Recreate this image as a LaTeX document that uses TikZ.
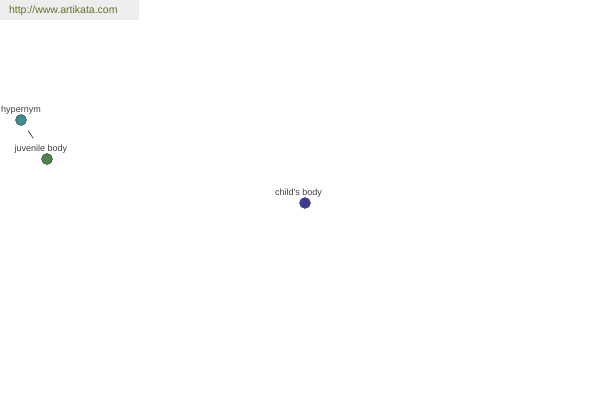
\documentclass[tikz,border=0pt]{standalone}
\usepackage{fontspec}
\setmainfont{Liberation Sans}
\usepackage{tikz}
\usetikzlibrary{calc}
\definecolor{eeeeee}{rgb}{0.93,0.93,0.93}
\definecolor{olivetxt}{rgb}{0.38,0.45,0.16}
\definecolor{tealdot}{rgb}{0.25,0.55,0.55}
\definecolor{greendot}{rgb}{0.30,0.52,0.30}
\definecolor{bluedot}{rgb}{0.24,0.24,0.55}
\definecolor{labeltxt}{rgb}{0.25,0.25,0.25}
\tikzstyle{every node}=[font=\fontsize{9}{10}\selectfont]
\tikzstyle{dot}=[circle,draw=black!80,line width=0.4pt,inner sep=0pt,minimum size=11pt]
\tikzstyle{word}=[text=labeltxt,inner sep=1pt]
\begin{document}
\begin{tikzpicture}[line cap=round,line join=round,x=1pt,y=-1pt]
            \useasboundingbox[fill=white] (0,0) rectangle (600,400);
            \fill[eeeeee] (0,0) rectangle (139,20);
            \node[anchor=west,text=olivetxt,font=\fontsize{10.5}{12}\selectfont] (site) at (5.5,11) {http://www.artikata.com};
            \node[dot,fill=tealdot] (hyper) at (21,120) {};
            \node[dot,fill=greendot] (juvenile) at (47,159) {};
            \node[dot,fill=bluedot,draw=bluedot] (child) at (305,203) {};
            \draw [line width=0.5pt,black,shorten <=13pt,shorten >=25pt] (hyper.center) -- (juvenile.center);
            \node[word] (hyperlbl) at (21,110) {hypernym};
            \node[word] (juvenilelbl) at (41,149) {juvenile body};
            \node[word] (childlbl) at (298.5,193) {child's body};
\end{tikzpicture}
\end{document}
